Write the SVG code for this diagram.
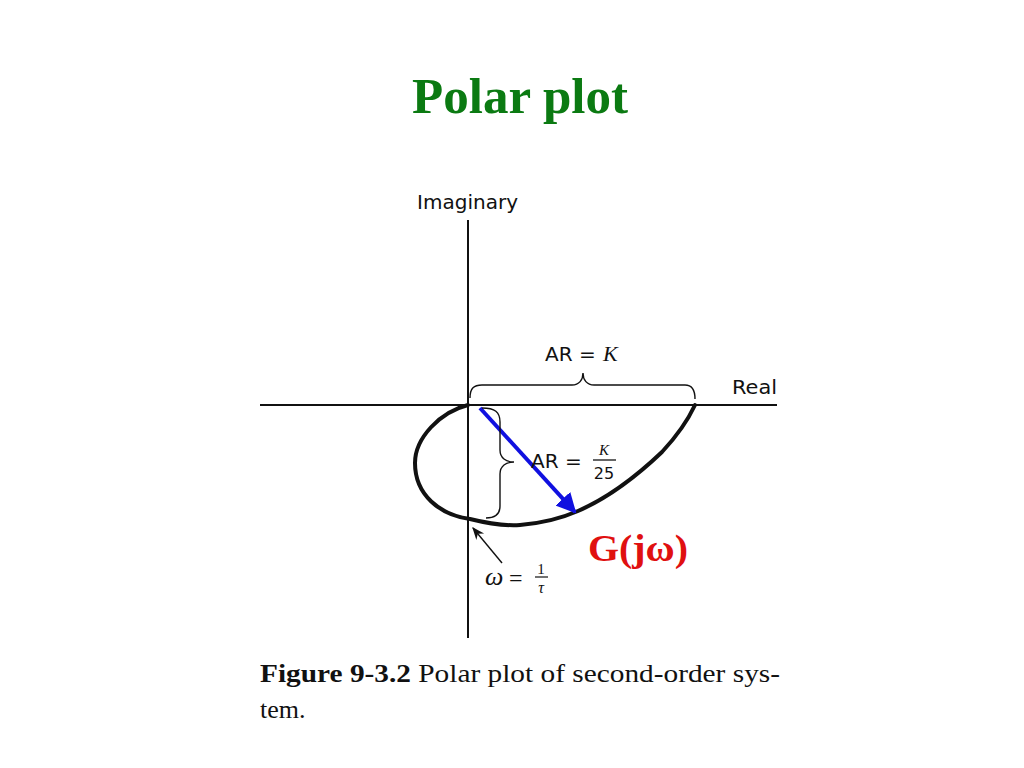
<svg xmlns="http://www.w3.org/2000/svg" width="1024" height="768" viewBox="0 0 1024 768">
<defs>
<style>
.sans{font-family:"DejaVu Sans","Liberation Sans",sans-serif;fill:#111}
.ser{font-family:"Liberation Serif","Times New Roman",serif;fill:#111}
.ax{stroke:#111;stroke-width:2;fill:none}
.thin{stroke:#111;stroke-width:1.4;fill:none}
</style>
<marker id="blueHead" viewBox="0 0 10 10" refX="9" refY="5" markerWidth="5" markerHeight="5" markerUnits="strokeWidth" orient="auto">
<path d="M0,0 L10,5 L0,10 z" fill="#1010e0"/>
</marker>
<marker id="blackHead" viewBox="0 0 10 10" refX="9" refY="5" markerWidth="9" markerHeight="9" markerUnits="strokeWidth" orient="auto">
<path d="M0,1 L10,5 L0,9 L3,5 z" fill="#111"/>
</marker>
</defs>
<rect width="1024" height="768" fill="#fff"/>
<text x="520" y="113" text-anchor="middle" font-family="Liberation Serif,serif" font-weight="bold" font-size="50" fill="#0b7a12" textLength="216" lengthAdjust="spacingAndGlyphs">Polar plot</text>

<g id="axes">
<line class="ax" x1="468" y1="220" x2="468" y2="638"/>
<line class="ax" x1="260" y1="405" x2="777" y2="405"/>
<text class="sans" x="417" y="209" font-size="20" textLength="101" lengthAdjust="spacingAndGlyphs">Imaginary</text>
<text class="sans" x="732" y="394" font-size="20" textLength="45" lengthAdjust="spacingAndGlyphs">Real</text>
</g>

<g id="curve">
<path d="M468,405 C440,412 415,438 415,463 C415,495 440,515 470,519 C490,524 505,526 520,525 C545,523 562,518 578,511 C610,497 640,473 662,452 C676,437 688,420 695,405" fill="none" stroke="#111" stroke-width="4" stroke-linecap="round"/>
</g>

<g id="connectors">
<line x1="480" y1="408" x2="575" y2="512" stroke="#1010e0" stroke-width="4" marker-end="url(#blueHead)"/>
<line class="thin" x1="502" y1="563" x2="473" y2="528" marker-end="url(#blackHead)"/>
</g>

<g id="brace-K">
<path class="thin" d="M470,398 C470,388 474,385 482,385 L572,385 C579,385 583,380 583,373 C583,380 587,385 594,385 L685,385 C692,385 695,390 695,399"/>
<text class="sans" x="545" y="361" font-size="20">AR =</text>
<text class="ser" x="603" y="361" font-size="22" font-style="italic">K</text>
</g>

<g id="brace-K25">
<path class="thin" d="M482,408 C495,408 500,412 500,422 L500,450 C500,458 506,462 514,462 C506,462 500,466 500,474 L500,506 C500,514 495,518 486,518"/>
<text class="sans" x="531" y="468" font-size="20">AR =</text>
<text class="ser" x="604" y="455" font-size="15" font-style="italic" text-anchor="middle">K</text>
<line x1="593" y1="460" x2="616" y2="460" stroke="#111" stroke-width="1.3"/>
<text class="sans" x="604" y="479" font-size="16" text-anchor="middle">25</text>
</g>

<g id="label-G">
<text x="588" y="561" font-family="Liberation Serif,serif" font-weight="bold" font-size="38" fill="#e01010" textLength="100" lengthAdjust="spacingAndGlyphs">G(jω)</text>
</g>

<g id="label-omega">
<text class="ser" x="485" y="585" font-size="26" font-style="italic">ω</text>
<text class="ser" x="509" y="586" font-size="24">=</text>
<text class="ser" x="541" y="574" font-size="15" text-anchor="middle">1</text>
<line x1="535" y1="577" x2="548" y2="577" stroke="#111" stroke-width="1.2"/>
<text class="ser" x="541" y="593" font-size="16" font-style="italic" text-anchor="middle">τ</text>
</g>

<g id="caption">
<text class="ser" x="260" y="682" font-size="26" textLength="520" lengthAdjust="spacingAndGlyphs"><tspan font-weight="bold">Figure 9-3.2</tspan>  <tspan>Polar plot of second-order sys-</tspan></text>
<text class="ser" x="260" y="718" font-size="26">tem.</text>
</g>
</svg>
